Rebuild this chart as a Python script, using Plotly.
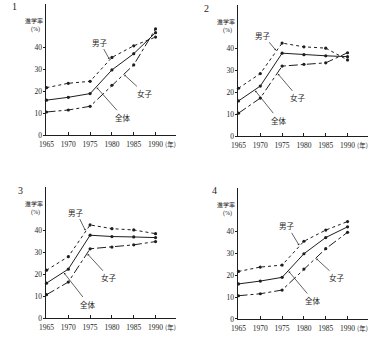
import numpy as np
import plotly.graph_objects as go

# 進学率 (%) — 年度
years = [1965, 1970, 1975, 1980, 1985, 1990]

# パネル1
p1_male = [21.7, 23.7, 24.6, 35.5, 40.8, 44.8]
p1_total = [16.0, 17.3, 19.0, 29.8, 37.2, 46.8]
p1_female = [10.6, 11.5, 13.2, 22.8, 32.1, 48.5]

# パネル2
p2_male = [21.8, 28.5, 42.4, 40.7, 40.1, 34.7]
p2_total = [16.0, 22.8, 37.8, 37.1, 36.6, 36.2]
p2_female = [10.4, 17.3, 31.9, 32.7, 33.4, 38.0]

# パネル3
p3_male = [21.9, 28.1, 42.6, 40.9, 40.3, 38.6]
p3_total = [16.0, 22.4, 37.9, 37.3, 37.1, 36.8]
p3_female = [10.7, 16.5, 31.7, 32.5, 33.5, 35.0]

# パネル4
p4_male = [21.7, 23.7, 24.6, 35.5, 40.6, 44.5]
p4_total = [16.0, 17.3, 19.0, 29.8, 37.2, 42.1]
p4_female = [10.6, 11.5, 13.2, 22.8, 32.1, 39.6]

y_ticks = [0, 10, 20, 30, 40]
x_ticks = [1965, 1970, 1975, 1980, 1985, 1990]
panel_names = ["1", "2", "3", "4"]

W, H = 392, 346
X_RANGE = [1965, 1994.8]
Y_RANGE = [0, 60]

# pixel frames of each panel: (left, right, top, bottom)
frames = [
    (39.3, 172.0, 3.8, 137.2),
    (235.3, 368.0, 4.6, 138.0),
    (39.3, 172.0, 189.6, 322.8),
    (235.3, 368.0, 190.4, 323.6),
]
# panel number positions (px)
number_pos = [(7, 7), (203, 9), (13, 193), (211, 193)]

panels = [
    (p1_male, p1_total, p1_female),
    (p2_male, p2_total, p2_female),
    (p3_male, p3_total, p3_female),
    (p4_male, p4_total, p4_female),
]

# leader label: (series index, year on curve, text centre in px)
leaders = [
    [(0, 1979.5, (94, 43)), (2, 1982.7, (139, 94.5)), (1, 1976.4, (117, 118.5))],
    [(0, 1973.7, (261, 36)), (2, 1973.9, (296, 99)), (1, 1968.7, (276, 121.5))],
    [(0, 1974.0, (70, 215.5)), (2, 1974.3, (103, 281.5)), (1, 1968.9, (81.5, 308))],
    [(0, 1979.0, (285.5, 229.5)), (2, 1982.7, (335.5, 281.5)), (1, 1976.4, (311, 304.5))],
]
series_names = ["男子", "全体", "女子"]
series_dash = ["dot", "solid", "dashdot"]

SERIF = "Liberation Serif, Times New Roman, serif"
CJK = "Noto Sans CJK JP, sans-serif"
INK = "#1e1e1e"

fig = go.Figure()


def px_x(f, v):
    l, r, t, b = f
    return l + (v - X_RANGE[0]) / (X_RANGE[1] - X_RANGE[0]) * (r - l)


def px_y(f, v):
    l, r, t, b = f
    return b - (v - Y_RANGE[0]) / (Y_RANGE[1] - Y_RANGE[0]) * (b - t)


def paper_text(x, y, text, family, size):
    return dict(
        x=x / W, y=1 - y / H, xref="paper", yref="paper",
        xanchor="center", yanchor="middle", text=text, showarrow=False,
        font=dict(family=family, size=size, color=INK),
    )


annotations = []
for i, (f, series) in enumerate(zip(frames, panels)):
    l, r, t, b = f
    k = "" if i == 0 else str(i + 1)
    xa, ya = "x" + k, "y" + k
    for s, vals in enumerate(series):
        fig.add_trace(go.Scatter(
            x=years, y=vals, mode="lines+markers", xaxis=xa, yaxis=ya,
            line=dict(color=INK, width=1, dash=series_dash[s]),
            marker=dict(color=INK, size=3.2), showlegend=False,
            cliponaxis=False,
        ))
    fig.layout["xaxis" + k] = dict(
        domain=[l / W, r / W], range=X_RANGE, anchor=ya,
        tickvals=x_ticks, ticktext=[str(v) for v in x_ticks],
        ticks="inside", ticklen=3, tickcolor=INK, showline=True,
        linecolor=INK, linewidth=1, showgrid=False, zeroline=False,
        ticklabelstandoff=2,
        tickfont=dict(family=SERIF, size=7.5, color=INK),
    )
    fig.layout["yaxis" + k] = dict(
        domain=[1 - b / H, 1 - t / H], range=Y_RANGE, anchor=xa,
        tickvals=y_ticks, ticks="outside", ticklen=2, tickcolor=INK,
        showline=True, linecolor=INK, linewidth=1, showgrid=False,
        zeroline=False, tickfont=dict(family=SERIF, size=7.5, color=INK),
    )
    nx, ny = number_pos[i]
    annotations.append(paper_text(nx, ny, panel_names[i], SERIF, 10))
    annotations.append(paper_text(l - 13, b - 116, "進学率", CJK, 6))
    annotations.append(paper_text(l - 11, b - 107, "(%)", SERIF, 6))
    annotations.append(paper_text(l + 127, b + 9, "(年)", CJK, 6.5))
    # series labels with leader lines
    for s, yr, (tx, ty) in leaders[i]:
        yv = float(np.interp(yr, years, series[s]))
        ax = tx - px_x(f, yr)
        ay = ty - px_y(f, yv)
        annotations.append(dict(
            x=yr, y=yv, xref=xa, yref=ya, ax=ax, ay=ay,
            text=series_names[s], showarrow=True, arrowhead=1,
            arrowsize=0.6, arrowwidth=0.7, arrowcolor=INK, standoff=1,
            font=dict(family=CJK, size=7.5, color=INK),
        ))

fig.update_layout(
    width=W, height=H, margin=dict(l=0, r=0, t=0, b=0),
    paper_bgcolor="white", plot_bgcolor="white",
    annotations=annotations,
)

fig.write_html("out.html")
